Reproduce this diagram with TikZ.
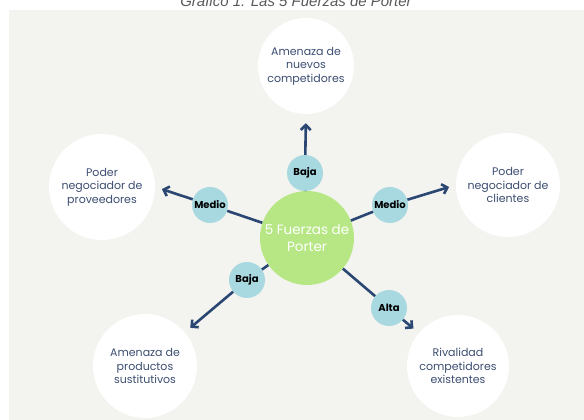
\documentclass[tikz,border=0pt]{standalone}
\usepackage{fontspec}
\setmainfont{Poppins}
\newfontfamily\titlefont{Liberation Sans}
\usetikzlibrary{arrows.meta}

\definecolor{panel}{HTML}{F3F3EF}
\definecolor{verde}{HTML}{B7E784}
\definecolor{celeste}{HTML}{A8D8E0}
\definecolor{marino}{HTML}{2A4672}
\definecolor{letra}{HTML}{3D4E72}

\tikzset{
    fuerza/.style={circle, fill=white, minimum size=104pt, inner sep=0pt,
        align=center, text=letra, font=\fontsize{11}{13.5}\selectfont},
    centro/.style={circle, fill=verde, minimum size=94pt, inner sep=0pt,
        align=center, text=white, font=\fontsize{13.5}{16.5}\selectfont},
    nivel/.style={circle, fill=celeste, minimum size=36pt, inner sep=0pt,
        font=\fontsize{10}{12}\selectfont\bfseries},
    enlace/.style={draw=marino, line width=2.6pt},
    flecha/.style={enlace, -{Straight Barb[length=5pt,width=10pt]}, shorten >=7pt},
}

\begin{document}
\begin{tikzpicture}[x=1pt, y=1pt]
    \useasboundingbox (0,0) rectangle (584,420);
    \fill[panel] (9,0) rectangle (584,410);
    \node [anchor=base, text=black!65, font=\titlefont\itshape\fontsize{15}{17}\selectfont] (titulo) at (296,413) {Gráfico 1: Las 5 Fuerzas de Porter};

    % fuerzas
    \node [centro] (porter) at (307,182) {5 Fuerzas de\\Porter};
    \node [fuerza, minimum size=96pt] (nuevos) at (306,354) {Amenaza de\\nuevos\\competidores};
    \node [fuerza, minimum size=106pt] (proveedores) at (102,233) {Poder\\negociador de\\proveedores};
    \node [fuerza] (clientes) at (508,235) {Poder\\negociador de\\clientes};
    \node [fuerza] (sustitutos) at (145,54) {Amenaza de\\productos\\sustitutivos};
    \node [fuerza, minimum size=102pt] (rivalidad) at (458,54) {Rivalidad\\competidores\\existentes};

    % niveles
    \node [nivel] (bajaA) at (305,247) {Baja};
    \node [nivel] (medioI) at (210,215) {Medio};
    \node [nivel] (medioD) at (390,215) {Medio};
    \node [nivel] (bajaB) at (247,140) {Baja};
    \node [nivel] (alta) at (389,112) {Alta};

    \draw [enlace] (porter) -- (bajaA);
    \draw [enlace] (porter) -- (medioI);
    \draw [enlace] (porter) -- (medioD);
    \draw [enlace] (porter) -- (bajaB);
    \draw [enlace] (porter) -- (alta);

    \draw [flecha, shorten >=9pt] (bajaA) -- (nuevos.south);
    \draw [flecha] (medioI) -- (proveedores.east);
    \draw [flecha] (medioD) -- (clientes.west);
    \draw [flecha] (bajaB) -- (sustitutos);
    \draw [flecha] (alta) -- (rivalidad);
\end{tikzpicture}
\end{document}
